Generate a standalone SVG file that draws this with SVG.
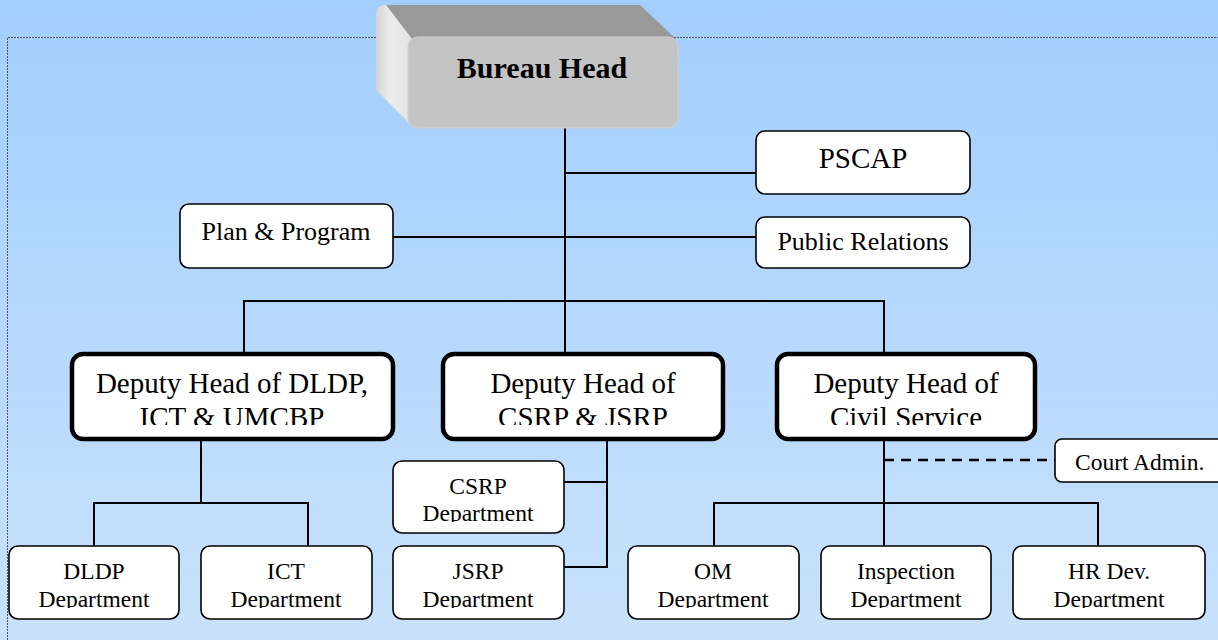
<svg xmlns="http://www.w3.org/2000/svg" width="1218" height="640" viewBox="0 0 1218 640">
<defs>
<linearGradient id="bg" x1="0" y1="0" x2="0" y2="1">
<stop offset="0" stop-color="#a2cefe"/>
<stop offset="1" stop-color="#c9e2fb"/>
</linearGradient>
<linearGradient id="lside" x1="0" y1="0" x2="1" y2="0">
<stop offset="0" stop-color="#d4d4d4"/>
<stop offset="0.4" stop-color="#ececec"/>
<stop offset="1" stop-color="#e2e2e2"/>
</linearGradient>
<clipPath id="cDep1"><rect x="60" y="340" width="350" height="85"/></clipPath>
<clipPath id="cDep2"><rect x="430" y="340" width="310" height="85"/></clipPath>
<clipPath id="cDep3"><rect x="765" y="340" width="290" height="85"/></clipPath>
<clipPath id="cDept"><rect x="0" y="540" width="1218" height="68"/></clipPath>
<clipPath id="cCsrp"><rect x="380" y="455" width="200" height="67"/></clipPath>
</defs>
<style>
text { font-family: "Liberation Serif", "Times New Roman", serif; fill: #000; }
.t26 { font-size: 26px; text-anchor: middle; }
.t28 { font-size: 29px; text-anchor: middle; }
.t23 { font-size: 23.5px; text-anchor: middle; }
.box { fill: #fff; stroke: #000; stroke-width: 1.6; }
.dep { fill: #fff; stroke: #000; stroke-width: 4.5; }
.ln { stroke: #000; stroke-width: 2; fill: none; }
.dash { stroke: #000; stroke-width: 2.5; fill: none; stroke-dasharray: 10 7; }
</style>
<rect x="0" y="0" width="1218" height="640" fill="url(#bg)"/>
<path d="M7.5 640 V37.5 H1218" fill="none" stroke="#555" stroke-width="1" stroke-dasharray="2 1"/>

<g id="connectors">
<line class="ln" x1="565" y1="128" x2="565" y2="353"/>
<line class="ln" x1="565" y1="173" x2="756" y2="173"/>
<line class="ln" x1="393" y1="237" x2="756" y2="237"/>
<polyline class="ln" points="244,353 244,301 884,301 884,353"/>
<line class="ln" x1="201" y1="440" x2="201" y2="503"/>
<polyline class="ln" points="94,546 94,503 308,503 308,546"/>
<polyline class="ln" points="564,482 607,482"/>
<polyline class="ln" points="607,439 607,567 564,567"/>
<line class="ln" x1="884" y1="440" x2="884" y2="546"/>
<polyline class="ln" points="714,546 714,503 1098,503 1098,546"/>
<line class="dash" x1="884" y1="460" x2="1055" y2="460"/>
</g>

<g id="bureau-head">
<path d="M386 5 H640 L676 39 L412 39 Z" fill="#999999"/>
<path d="M376 14 Q376 5 386 5 L412 39 L412 126 L376 90 Z" fill="url(#lside)"/>
<rect x="408" y="37" width="270" height="91" rx="10" fill="#c4c4c4" stroke="#d0d0d0" stroke-width="1"/>
<text x="542" y="78" style="font-size:30px;font-weight:bold;text-anchor:middle">Bureau Head</text>
</g>

<g id="pscap">
<rect class="box" x="756" y="131" width="214" height="63" rx="9"/>
<text class="t28" x="863" y="168">PSCAP</text>
</g>
<g id="plan-program">
<rect class="box" x="180" y="204" width="213" height="64" rx="9"/>
<text class="t26" x="286" y="240">Plan &amp; Program</text>
</g>
<g id="public-relations">
<rect class="box" x="756" y="217" width="214" height="51" rx="9"/>
<text class="t26" x="863" y="250">Public Relations</text>
</g>

<g id="deputy-dldp">
<rect class="dep" x="72" y="354" width="321" height="85" rx="11"/>
<g clip-path="url(#cDep1)">
<text class="t28" x="232" y="393">Deputy Head of DLDP,</text>
<text class="t28" x="232" y="427">ICT &amp; UMCBP</text>
</g>
</g>
<g id="deputy-csrp">
<rect class="dep" x="443" y="354" width="280" height="85" rx="11"/>
<g clip-path="url(#cDep2)">
<text class="t28" x="583" y="393">Deputy Head of</text>
<text class="t28" x="583" y="427">CSRP &amp; JSRP</text>
</g>
</g>
<g id="deputy-civil">
<rect class="dep" x="777" y="354" width="258" height="85" rx="11"/>
<g clip-path="url(#cDep3)">
<text class="t28" x="906" y="393">Deputy Head of</text>
<text class="t28" x="906" y="427">Civil Service</text>
</g>
</g>

<g id="court-admin">
<rect class="box" x="1055" y="439" width="180" height="43" rx="7"/>
<text x="1075" y="470" style="font-size:23.5px">Court Admin.</text>
</g>

<g id="csrp-dept">
<rect class="box" x="393" y="461" width="171" height="72" rx="9"/>
<g clip-path="url(#cCsrp)">
<text class="t23" x="478" y="494">CSRP</text>
<text class="t23" x="478" y="521">Department</text>
</g>
</g>

<g id="dldp-dept">
<rect class="box" x="9" y="546" width="170" height="73" rx="9"/>
<g clip-path="url(#cDept)">
<text class="t23" x="94" y="579">DLDP</text>
<text class="t23" x="94" y="607">Department</text>
</g>
</g>
<g id="ict-dept">
<rect class="box" x="201" y="546" width="171" height="73" rx="9"/>
<g clip-path="url(#cDept)">
<text class="t23" x="286" y="579">ICT</text>
<text class="t23" x="286" y="607">Department</text>
</g>
</g>
<g id="jsrp-dept">
<rect class="box" x="393" y="546" width="171" height="73" rx="9"/>
<g clip-path="url(#cDept)">
<text class="t23" x="478" y="579">JSRP</text>
<text class="t23" x="478" y="607">Department</text>
</g>
</g>
<g id="om-dept">
<rect class="box" x="628" y="546" width="171" height="73" rx="9"/>
<g clip-path="url(#cDept)">
<text class="t23" x="713" y="579">OM</text>
<text class="t23" x="713" y="607">Department</text>
</g>
</g>
<g id="inspection-dept">
<rect class="box" x="821" y="546" width="170" height="73" rx="9"/>
<g clip-path="url(#cDept)">
<text class="t23" x="906" y="579">Inspection</text>
<text class="t23" x="906" y="607">Department</text>
</g>
</g>
<g id="hr-dev-dept">
<rect class="box" x="1013" y="546" width="192" height="73" rx="9"/>
<g clip-path="url(#cDept)">
<text class="t23" x="1109" y="579">HR Dev.</text>
<text class="t23" x="1109" y="607">Department</text>
</g>
</g>
</svg>
